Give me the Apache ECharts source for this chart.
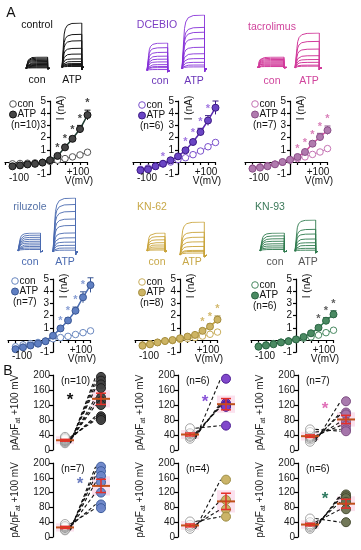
<!DOCTYPE html>
<html><head><meta charset="utf-8">
<script src="https://cdn.jsdelivr.net/npm/echarts@6/dist/echarts.min.js"></script>
<style>html,body{margin:0;padding:0;background:#fff}#c{width:361px;height:550px}</style>
</head><body><div id="c"></div><script>
const FONT = '"Liberation Sans", Arial, Helvetica, sans-serif';

// ===== Panel A : I-V curves (nA) =====
const voltages = [-100, -80, -60, -40, -20, 0, 20, 40, 60, 80, 100];

const controlCon = [-0.15, -0.12, -0.1, -0.07, -0.03, 0.05, 0.15, 0.28, 0.42, 0.58, 0.8];
const controlATP = [-0.35, -0.28, -0.2, -0.15, -0.05, 0.15, 0.5, 1.2, 1.9, 2.7, 3.85];
const controlErr = [0, 0, 0, 0, 0, 0.05, 0.1, 0.15, 0.2, 0.3, 0.4];
const controlStars = [20, 40, 60, 80, 100];

const dcebioCon = [-0.6, -0.5, -0.35, -0.15, 0.0, 0.2, 0.35, 0.6, 0.9, 1.25, 1.6];
const dcebioATP = [-0.68, -0.6, -0.35, -0.14, 0.14, 0.46, 0.96, 1.64, 2.46, 3.4, 4.45];
const dcebioErr = [0, 0, 0, 0, 0, 0.05, 0.1, 0.2, 0.3, 0.4, 0.55];
const dcebioStars = [-40, 20, 40, 60, 80, 100];

const tacroCon = [-0.5, -0.4, -0.3, -0.18, -0.02, 0.15, 0.28, 0.42, 0.62, 0.82, 1.1];
const tacroATP = [-0.55, -0.46, -0.35, -0.19, 0.0, 0.19, 0.41, 0.82, 1.5, 2.05, 2.6];
const tacroErr = [0, 0, 0, 0, 0, 0.05, 0.1, 0.15, 0.2, 0.3, 0.35];
const tacroStars = [20, 40, 60, 80, 100];

const riluzoleCon = [-0.55, -0.4, -0.3, -0.2, -0.1, 0.1, 0.2, 0.3, 0.45, 0.6, 0.75];
const riluzoleATP = [-0.75, -0.6, -0.45, -0.3, -0.1, 0.35, 0.95, 1.6, 2.4, 3.5, 4.5];
const riluzoleErr = [0, 0, 0, 0, 0, 0.05, 0.1, 0.2, 0.3, 0.45, 0.6];
const riluzoleStars = [20, 40, 60, 80, 100];

const kn62Con = [-0.4, -0.3, -0.2, -0.1, -0.05, 0.05, 0.12, 0.2, 0.32, 0.47, 0.65];
const kn62ATP = [-0.47, -0.36, -0.2, -0.08, 0.0, 0.14, 0.28, 0.42, 0.75, 1.1, 1.67];
const kn62Err = [0, 0, 0, 0, 0, 0, 0.05, 0.1, 0.15, 0.2, 0.3];
const kn62Stars = [60, 80, 100];

const kn93Con = [-0.5, -0.4, -0.3, -0.18, -0.08, 0.03, 0.15, 0.25, 0.4, 0.6, 0.8];
const kn93ATP = [-0.55, -0.45, -0.35, -0.2, -0.1, 0.05, 0.25, 0.55, 1.0, 1.58, 2.1];
const kn93Err = [0, 0, 0, 0, 0, 0, 0.05, 0.1, 0.2, 0.25, 0.3];
const kn93Stars = [60, 80, 100];

// ===== Panel A : current-trace steady levels (fraction of block height) =====
const controlConLevels = [1, 0.9, 0.8, 0.7, 0.6, 0.5, 0.42, 0.34, 0.26, 0.18, 0.1, 0.04];
const controlATPLevels = [1, 0.745, 0.6, 0.43, 0.3, 0.19, 0.13, 0.085, 0.064, 0.043, 0.02];
const dcebioConLevels = [1, 0.83, 0.66, 0.52, 0.41, 0.31, 0.21, 0.14, 0.1, 0.03];
const dcebioATPLevels = [1, 0.77, 0.68, 0.56, 0.4, 0.28, 0.19, 0.12, 0.07, 0.035];
const tacroConLevels = [1, 0.88, 0.76, 0.65, 0.54, 0.44, 0.34, 0.25, 0.16, 0.08];
const tacroATPLevels = [1, 0.76, 0.54, 0.35, 0.24, 0.16, 0.08, 0.05];
const riluzoleConLevels = [1, 0.88, 0.76, 0.65, 0.54, 0.44, 0.34, 0.25, 0.16, 0.08];
const riluzoleATPLevels = [1, 0.88, 0.75, 0.61, 0.49, 0.35, 0.26, 0.18, 0.12, 0.07, 0.03];
const kn62ConLevels = [1, 0.8, 0.62, 0.46, 0.33, 0.22, 0.12, 0.05];
const kn62ATPLevels = [1, 0.69, 0.54, 0.4, 0.26, 0.14, 0.11, 0.06];
const kn93ConLevels = [1, 0.84, 0.68, 0.54, 0.4, 0.28, 0.17, 0.08];
const kn93ATPLevels = [1, 0.7, 0.55, 0.39, 0.27, 0.18, 0.09, 0.03];

// ===== Panel B : pA/pF at +100 mV =====
const bControlCon = [18, 20, 22, 24, 25, 26, 28, 30, 32, 35];
const bControlATP = [195, 185, 175, 165, 140, 130, 120, 90, 85, 80];
const bControlSem = [2.5, 15];
const bDcebioCon = [30, 35, 38, 42, 45, 58];
const bDcebioATP = [190, 125, 120, 118, 115, 65];
const bDcebioSem = [4, 15];
const bTacroCon = [22, 28, 32, 35, 38, 48, 55];
const bTacroATP = [130, 100, 95, 75, 65, 55, 50];
const bTacroSem = [3.5, 11];
const bRiluzoleCon = [18, 20, 24, 26, 28, 30, 35];
const bRiluzoleATP = [190, 178, 165, 148, 120, 88, 78];
const bRiluzoleSem = [3, 18];
const bKn62Con = [22, 28, 33, 42];
const bKn62ATP = [155, 100, 75, 55];
const bKn62Sem = [4, 22];
const bKn93Con = [22, 26, 30, 34, 40, 50];
const bKn93ATP = [115, 110, 105, 95, 75, 40];
const bKn93Sem = [3.5, 12];

// ===== layout / style tables =====
const ivPanels = [
  {con: controlCon, atp: controlATP, err: controlErr, stars: controlStars, ax: 50, y0: 162,
   line: '#1f3a30', fill: '#454545', border: '#111', conBorder: '#555', star: '#111', leg: [13, 104], n: '(n=10)'},
  {con: dcebioCon, atp: dcebioATP, err: dcebioErr, stars: dcebioStars, ax: 178, y0: 162,
   line: '#5a2bb0', fill: '#6a45c4', border: '#3c1a85', conBorder: '#7a50cc', star: '#8a55d8', leg: [142, 105], n: '(n=6)'},
  {con: tacroCon, atp: tacroATP, err: tacroErr, stars: tacroStars, ax: 290, y0: 162,
   line: '#d2489c', fill: '#b07aae', border: '#8a4f88', conBorder: '#c574b4', star: '#d060a8', leg: [255, 104], n: '(n=7)'},
  {con: riluzoleCon, atp: riluzoleATP, err: riluzoleErr, stars: riluzoleStars, ax: 53, y0: 340,
   line: '#4a6cb0', fill: '#5f7fc2', border: '#3a5794', conBorder: '#6a88c0', star: '#6a86c8', leg: [15, 281], n: '(n=7)'},
  {con: kn62Con, atp: kn62ATP, err: kn62Err, stars: kn62Stars, ax: 180, y0: 340,
   line: '#c4a23e', fill: '#cdb464', border: '#a58d3e', conBorder: '#c8ad5a', star: '#c8a848', leg: [142, 282], n: '(n=8)'},
  {con: kn93Con, atp: kn93ATP, err: kn93Err, stars: kn93Stars, ax: 296, y0: 340,
   line: '#2f7a4e', fill: '#4a8a62', border: '#2a6443', conBorder: '#4a8a62', star: '#333', leg: [255, 285], n: '(n=6)'}
];

const tracePanels = [
  {color: '#151515', w: 1, con: controlConLevels, atp: controlATPLevels, conR: [26, 57, 50, 69], atpR: [62, 23, 84, 70],
   title: 'control', titleColor: '#111', titlePos: [37, 25], labColor: '#111', conLab: [37, 80], atpLab: [72, 80]},
  {color: '#8630d8', w: 0.9, con: dcebioConLevels, atp: dcebioATPLevels, conR: [147, 43, 170, 72], atpR: [182, 15, 207, 72],
   title: 'DCEBIO', titleColor: '#7c3fc4', titlePos: [157, 25], labColor: '#6a35b8', conLab: [160, 81], atpLab: [194, 81]},
  {color: '#d23b9b', w: 1, con: tacroConLevels, atp: tacroATPLevels, conR: [257, 57, 287, 68], atpR: [295, 33, 322, 70],
   title: 'tacrolimus', titleColor: '#d0449c', titlePos: [272, 27], labColor: '#d0449c', conLab: [272, 81], atpLab: [309, 81]},
  {color: '#4a6ab0', w: 0.9, con: riluzoleConLevels, atp: riluzoleATPLevels, conR: [18, 233, 43, 252], atpR: [53, 198, 78, 255],
   title: 'riluzole', titleColor: '#5572a8', titlePos: [30, 207], labColor: '#4a6ab0', conLab: [30, 262], atpLab: [65, 262]},
  {color: '#c9a43a', w: 0.9, con: kn62ConLevels, atp: kn62ATPLevels, conR: [147, 233, 167, 252], atpR: [180, 222, 207, 257],
   title: 'KN-62', titleColor: '#c8a848', titlePos: [152, 207], labColor: '#c8a848', conLab: [157, 262], atpLab: [192, 262]},
  {color: '#2f7a4e', w: 0.9, con: kn93ConLevels, atp: kn93ATPLevels, conR: [260, 233, 287, 252], atpR: [295, 220, 318, 253],
   title: 'KN-93', titleColor: '#3c7a5a', titlePos: [270, 207], labColor: '#555', conLab: [275, 262], atpLab: [308, 262]}
];

const bPanels = [
  {con: bControlCon, atp: bControlATP, sem: bControlSem, ax: 53, top: 375, h: 75, fill: '#404040', border: '#1a1a1a', n: '(n=10)', star: '#111', starPos: [70, 397]},
  {con: bDcebioCon, atp: bDcebioATP, sem: bDcebioSem, ax: 178, top: 375, h: 75, fill: '#7a3ec8', border: '#4a1a90', n: '(n=6)', star: '#8a55d8', starPos: [205, 399]},
  {con: bTacroCon, atp: bTacroATP, sem: bTacroSem, ax: 298, top: 375, h: 75, fill: '#a474aa', border: '#7a4a80', n: '(n=7)', star: '#e070b8', starPos: [325, 406]},
  {con: bRiluzoleCon, atp: bRiluzoleATP, sem: bRiluzoleSem, ax: 53, top: 463, h: 74, fill: '#6a84c8', border: '#3a5a9a', n: '(n=7)', star: '#6a7cc0', starPos: [80, 481]},
  {con: bKn62Con, atp: bKn62ATP, sem: bKn62Sem, ax: 178, top: 463, h: 74, fill: '#c8b060', border: '#9a8a40', n: '(n=4)', star: null},
  {con: bKn93Con, atp: bKn93ATP, sem: bKn93Sem, ax: 298, top: 463, h: 74, fill: '#6a7150', border: '#464a30', n: '(n=6)', star: '#2f7a60', starPos: [325, 496]}
];

// ===== build option =====
const grid = [], xAxis = [], yAxis = [], series = [], graphic = [];
function addGrid(g, xa, ya) {
  const i = grid.length;
  grid.push(Object.assign({containLabel: false}, g));
  xAxis.push(Object.assign({gridIndex: i}, xa));
  yAxis.push(Object.assign({gridIndex: i}, ya));
  return i;
}
function txt(x, y, text, opt) {
  graphic.push({type: 'text', x: x, y: y, z: 100, rotation: (opt && opt.rot) || 0,
    style: Object.assign({text: text, font: '10px ' + FONT, fill: '#111', textAlign: 'center', textVerticalAlign: 'middle'}, opt && opt.style)});
}

// traces
function traceShape(L) {
  return [[0, 0], [0.07, 0], [0.07, L * 0.55], [0.1, L * 0.75], [0.15, L * 0.87], [0.25, L * 0.95], [0.45, L * 0.99],
          [0.9, L], [0.9, -0.06], [0.93, 0], [1, 0]];
}
tracePanels.forEach(p => {
  [[p.conR, p.con], [p.atpR, p.atp]].forEach(([r, levels]) => {
    const gi = addGrid({left: r[0], top: r[1], width: r[2] - r[0], height: r[3] - r[1]},
      {type: 'value', min: 0, max: 1, show: false}, {type: 'value', min: -0.06, max: 1, show: false});
    levels.forEach(L => series.push({type: 'line', xAxisIndex: gi, yAxisIndex: gi, data: traceShape(L),
      symbol: 'none', silent: true, animation: false, lineStyle: {color: p.color, width: p.w}}));
  });
  txt(p.titlePos[0], p.titlePos[1], p.title, {style: {fill: p.titleColor, font: '10.5px ' + FONT}});
  txt(p.conLab[0], p.conLab[1], 'con', {style: {fill: p.labColor, font: '10.5px ' + FONT}});
  txt(p.atpLab[0], p.atpLab[1], 'ATP', {style: {fill: p.labColor, font: '10.5px ' + FONT}});
});

// I-V panels
const PX_PER_MV = 0.375, PX_PER_NA = 12.2;
ivPanels.forEach(p => {
  const gi = addGrid({left: p.ax - 120 * PX_PER_MV, top: p.y0 - 5 * PX_PER_NA, width: 220 * PX_PER_MV, height: 6 * PX_PER_NA},
    {type: 'value', min: -120, max: 100, interval: 20, position: 'bottom', offset: -1 * PX_PER_NA,
     axisLine: {onZero: false, lineStyle: {color: '#000', width: 1.2}},
     axisTick: {show: true, length: 3, inside: false, lineStyle: {color: '#000', width: 1.2}},
     axisLabel: {show: false}, splitLine: {show: false}},
    {type: 'value', min: -1, max: 5, interval: 1, position: 'left', offset: -120 * PX_PER_MV,
     axisLine: {show: true, onZero: false, lineStyle: {color: '#000', width: 1.2}},
     axisTick: {show: true, length: 3, lineStyle: {color: '#000', width: 1.2}},
     axisLabel: {show: true, margin: 4, fontSize: 10, fontFamily: FONT, color: '#111', formatter: v => v === 0 ? '' : String(v)},
     splitLine: {show: false}});
  series.push({type: 'line', xAxisIndex: gi, yAxisIndex: gi, z: 3, animation: false,
    data: voltages.map((v, i) => [v, p.con[i]]), symbol: 'circle', symbolSize: 6.5,
    itemStyle: {color: '#fff', borderColor: p.conBorder, borderWidth: 1},
    lineStyle: {color: p.conBorder, width: 1}});
  series.push({type: 'custom', xAxisIndex: gi, yAxisIndex: gi, z: 4, animation: false,
    data: voltages.map((v, i) => [v, p.atp[i], p.err[i]]).filter(d => d[2] > 0),
    renderItem: (params, api) => {
      const x = api.value(0), y = api.value(1), e = api.value(2);
      const t = api.coord([x, y + e]), b = api.coord([x, y - e]);
      return {type: 'group', children: [
        {type: 'line', shape: {x1: t[0], y1: t[1], x2: b[0], y2: b[1]}, style: {stroke: p.border, lineWidth: 1}},
        {type: 'line', shape: {x1: t[0] - 3, y1: t[1], x2: t[0] + 3, y2: t[1]}, style: {stroke: p.border, lineWidth: 1}}]};
    }});
  series.push({type: 'line', xAxisIndex: gi, yAxisIndex: gi, z: 5, animation: false,
    data: voltages.map((v, i) => [v, p.atp[i]]), symbol: 'circle', symbolSize: 7,
    itemStyle: {color: p.fill, borderColor: p.border, borderWidth: 1},
    lineStyle: {color: p.line, width: 1.5}});
  series.push({type: 'scatter', xAxisIndex: gi, yAxisIndex: gi, z: 6, animation: false, symbolSize: 0,
    data: p.stars.map(v => { const i = voltages.indexOf(v); return [v, p.atp[i] + p.err[i] + 0.55]; }),
    label: {show: true, position: 'inside', formatter: '*', fontSize: 11, fontWeight: 'bold', fontFamily: FONT, color: p.star}});
  // axis texts
  const x0 = p.ax, y0 = p.y0;
  txt(x0 - 31, y0 + 16, '-100');
  txt(x0 + 28, y0 + 10, '+100');
  txt(x0 + 29, y0 + 19, 'V(mV)');
  txt(x0 + 11, y0 - 54, 'I (nA)', {rot: Math.PI / 2});
  // legend
  const [lx, ly] = p.leg;
  graphic.push({type: 'circle', shape: {cx: lx, cy: ly, r: 3.3}, z: 100, style: {fill: '#fff', stroke: p.conBorder, lineWidth: 1}});
  graphic.push({type: 'circle', shape: {cx: lx, cy: ly + 10.5, r: 3.5}, z: 100, style: {fill: p.fill, stroke: p.border, lineWidth: 1}});
  txt(lx + 4.5, ly, 'con', {style: {textAlign: 'left'}});
  txt(lx + 4.5, ly + 10.5, 'ATP', {style: {textAlign: 'left'}});
  txt(lx - 2, ly + 21.5, p.n, {style: {textAlign: 'left'}});
});

// Panel B
const CON_X = 1, ATP_X = 4;
bPanels.forEach(p => {
  const gi = addGrid({left: p.ax, top: p.top, width: 60, height: p.h},
    {type: 'value', min: 0, max: 5, show: false},
    {type: 'value', min: 0, max: 200, interval: 40,
     axisLine: {show: true, onZero: false, lineStyle: {color: '#000', width: 1.2}},
     axisTick: {show: true, length: 4, lineStyle: {color: '#000', width: 1.2}},
     axisLabel: {margin: 3, fontSize: 10, fontFamily: FONT, color: '#222'},
     splitLine: {show: false},
     name: '{a|pA/pF}{b|at}{a| +100 mV}', nameLocation: 'middle', nameRotate: 90, nameGap: 31,
     nameTextStyle: {rich: {a: {fontSize: 10, fontFamily: FONT, color: '#222', lineHeight: 13},
                            b: {fontSize: 7, fontFamily: FONT, color: '#222', lineHeight: 13, verticalAlign: 'bottom', padding: [5, 0, 0, 0]}}}});
  const mean = arr => arr.reduce((s, v) => s + v, 0) / arr.length;
  const mC = mean(p.con), mA = mean(p.atp);
  series.push({type: 'custom', xAxisIndex: gi, yAxisIndex: gi, z: 1, silent: true, animation: false,
    data: [[CON_X, mC, p.sem[0] + 8], [ATP_X, mA, p.sem[1] + 8]],
    renderItem: (params, api) => {
      const a = api.coord([api.value(0), api.value(1) + api.value(2)]);
      const b = api.coord([api.value(0), api.value(1) - api.value(2)]);
      return {type: 'rect', shape: {x: a[0] - 9, y: a[1], width: 18, height: b[1] - a[1]}, style: {fill: '#fbe1ee'}};
    }});
  p.con.forEach((c, i) => series.push({type: 'line', xAxisIndex: gi, yAxisIndex: gi, z: 2, animation: false, silent: true,
    data: [[CON_X + 0.45, c], [ATP_X - 0.45, p.atp[i]]], symbol: 'none',
    lineStyle: {color: '#111', width: 1.1, type: [3.5, 2.5]}}));
  series.push({type: 'scatter', xAxisIndex: gi, yAxisIndex: gi, z: 3, animation: false, symbolSize: 9,
    data: p.con.map(v => [CON_X, v]), itemStyle: {color: 'rgba(255,255,255,0.6)', borderColor: '#8f8f8f', borderWidth: 1}});
  series.push({type: 'scatter', xAxisIndex: gi, yAxisIndex: gi, z: 3, animation: false, symbolSize: 9,
    data: p.atp.map(v => [ATP_X, v]), itemStyle: {color: p.fill, borderColor: p.border, borderWidth: 1, opacity: 0.95}});
  series.push({type: 'custom', xAxisIndex: gi, yAxisIndex: gi, z: 4, animation: false,
    data: [[CON_X, mC, p.sem[0]], [ATP_X, mA, p.sem[1]]],
    renderItem: (params, api) => {
      const m = api.coord([api.value(0), api.value(1)]);
      const t = api.coord([api.value(0), api.value(1) + api.value(2)]);
      const b = api.coord([api.value(0), api.value(1) - api.value(2)]);
      const st = {stroke: '#e4302a', lineWidth: 1.5};
      return {type: 'group', children: [
        {type: 'line', shape: {x1: m[0] - 9, y1: m[1], x2: m[0] + 9, y2: m[1]}, style: {stroke: '#c0501a', lineWidth: 2}},
        {type: 'line', shape: {x1: t[0], y1: t[1], x2: b[0], y2: b[1]}, style: st},
        {type: 'line', shape: {x1: t[0] - 5, y1: t[1], x2: t[0] + 5, y2: t[1]}, style: st},
        {type: 'line', shape: {x1: b[0] - 5, y1: b[1], x2: b[0] + 5, y2: b[1]}, style: st}]};
    }});
  txt(p.ax + 8, p.top + 6, p.n, {style: {textAlign: 'left'}});
  if (p.star) txt(p.starPos[0], p.starPos[1] + 3, '*', {style: {fill: p.star, font: 'bold 17px ' + FONT}});
});

txt(11, 13, 'A', {style: {font: '14px ' + FONT}});
txt(8, 371, 'B', {style: {font: '14px ' + FONT}});

const chart = echarts.init(document.getElementById('c'), null, {renderer: 'canvas'});
chart.setOption({animation: false, backgroundColor: '#fff', grid, xAxis, yAxis, series, graphic});
</script></body></html>
